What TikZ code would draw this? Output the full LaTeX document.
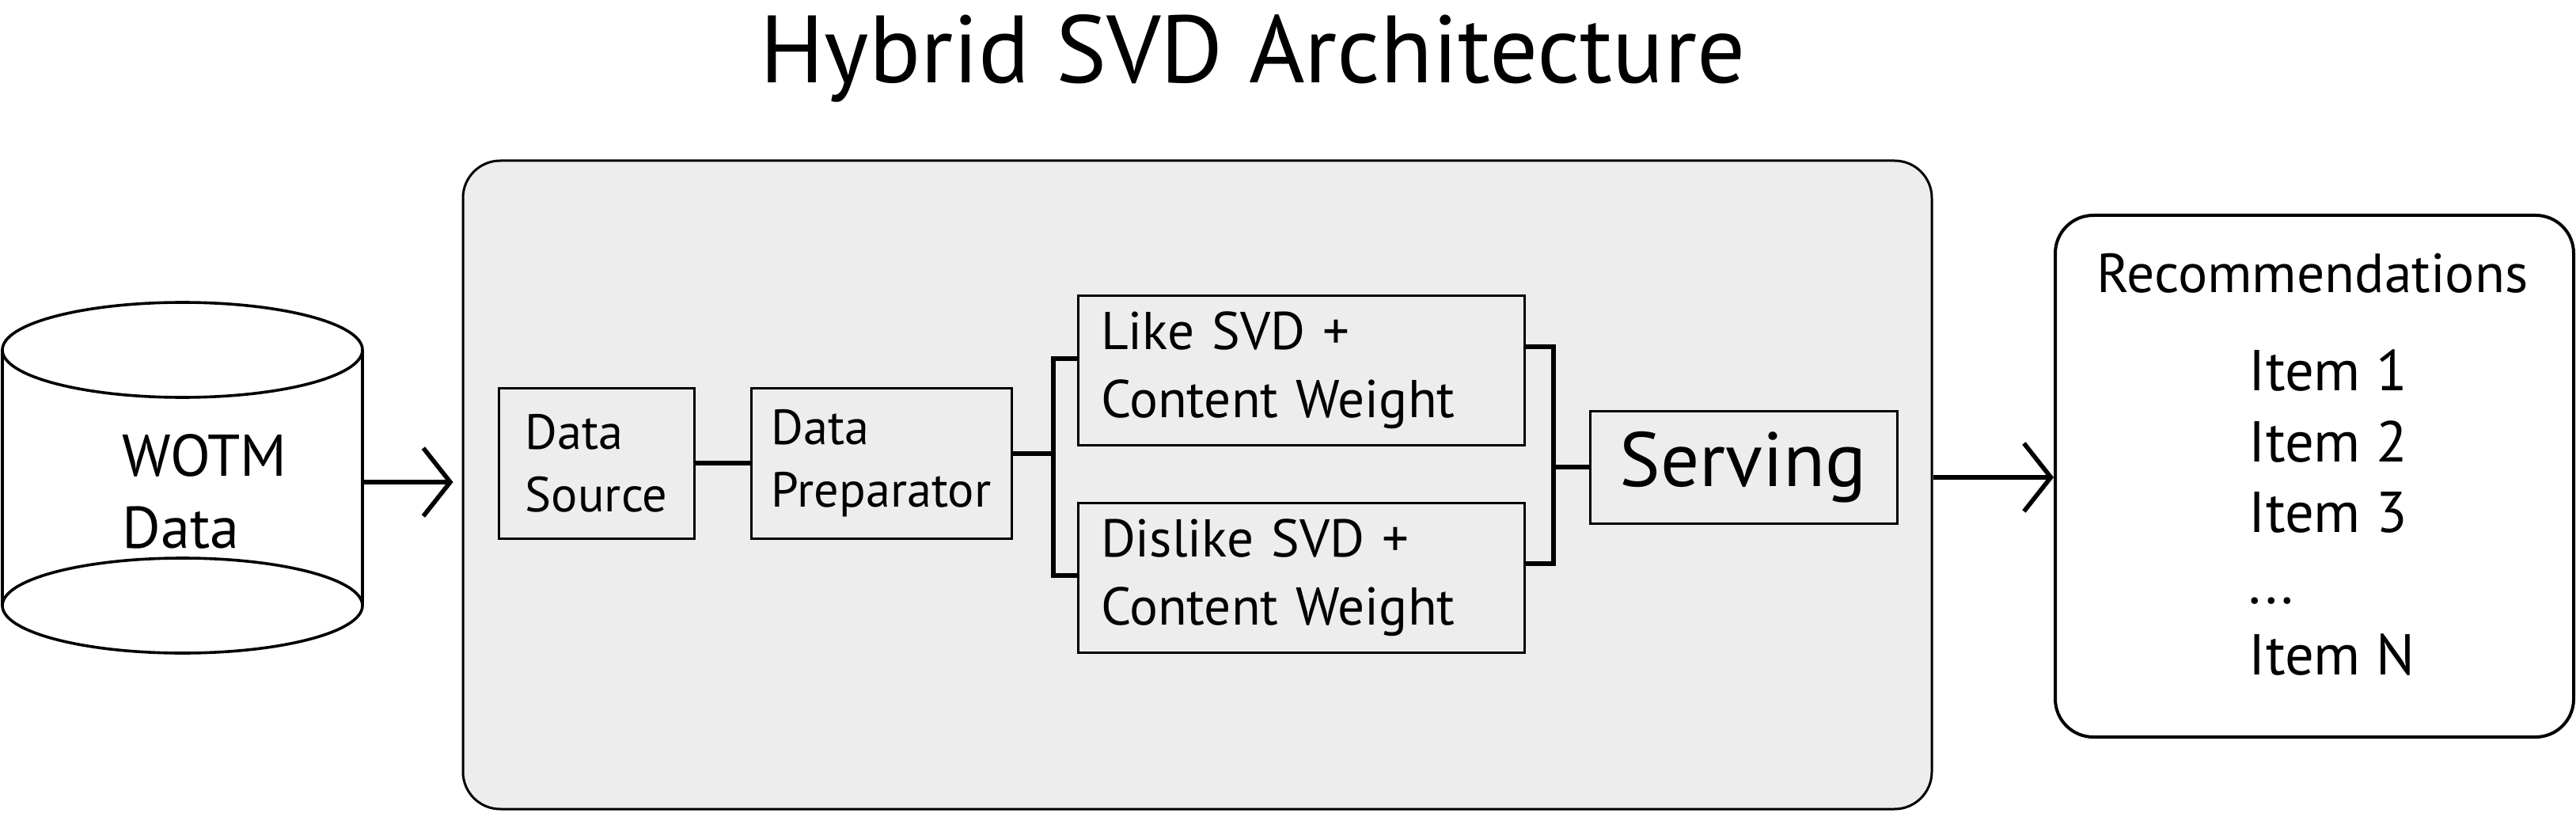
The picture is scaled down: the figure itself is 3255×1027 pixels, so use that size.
\documentclass[tikz,border=0pt]{standalone}
\usepackage{fontspec}
\setmainfont{PT Sans}
\usetikzlibrary{arrows.meta,calc,positioning}

\definecolor{panelgray}{RGB}{237,237,237}

\newcommand{\titlesize}{\fontsize{30.2pt}{36pt}\selectfont}
\newcommand{\cansize}{\fontsize{18.6pt}{22.75pt}\selectfont}
\newcommand{\stagesize}{\fontsize{15.6pt}{19.75pt}\selectfont}
\newcommand{\svdsize}{\fontsize{16.8pt}{21.5pt}\selectfont}
\newcommand{\servesize}{\fontsize{24.3pt}{29pt}\selectfont}
\newcommand{\recsize}{\fontsize{17.4pt}{19pt}\selectfont}
\newcommand{\itemsize}{\fontsize{18.2pt}{22.4pt}\selectfont}

\tikzset{every picture/.style={line width=0.75pt}}
\tikzset{
  stagebox/.style={draw, line width=0.75pt, fill=panelgray, align=left, minimum height=47.5pt},
  svdbox/.style={stagebox, minimum height=47.25pt, text width=126.5pt, inner xsep=7.25pt, font=\svdsize},
  conn/.style={line width=1.5pt},
  flow/.style={line width=1.4pt, -{Straight Barb[length=8.5pt,width=21.5pt,line width=1.4pt]}},
}

\begin{document}
\begin{tikzpicture}[x=0.25pt,y=0.25pt,yscale=-1,xscale=1]
\useasboundingbox (0,0) rectangle (3255,1027);

% Text Node
\node (title) [anchor=base, font=\titlesize] at (1583,105) {Hybrid SVD Architecture};

%Shape: Can
\draw [line width=0.9pt] (3,442) -- (3,765);
\draw [line width=0.9pt] (458,442) -- (458,765);
\draw [line width=0.9pt] (230.5,442) ellipse [x radius=227.5, y radius=60];
\draw [line width=0.9pt] (230.5,765) ellipse [x radius=227.5, y radius=60];
% Text Node
\node (wotm) [anchor=base west, align=left, font=\cansize] at (140,692) {WOTM\\Data};

%Rounded Rect
\node (engine) [draw, fill=panelgray, rounded corners=11.75pt, minimum width=464pt, minimum height=204.75pt] at (1513,612.5) {};

%Shape: Rectangle
\node (src) [stagebox, minimum width=61.75pt, font=\stagesize] at (753.5,585) {Data\\Source};
%Shape: Rectangle
\node (prep) [stagebox, minimum width=82.25pt, font=\stagesize] at (1113.5,585) {Data\\Preparator};
%Shape: Rectangle
\node (like) [svdbox] at (1644,467.5) {Like SVD +\\Content Weight};
%Shape: Rectangle
\node (dislike) [svdbox] at (1644,730) {Dislike SVD +\\Content Weight};
%Shape: Rectangle
\node (serve) [stagebox, align=center, minimum width=97pt, minimum height=35.5pt, font=\servesize] at (2203,590) {Serving};

%Rounded Rect
\node (rec) [draw, line width=1pt, fill=white, rounded corners=12pt, minimum width=163.75pt, minimum height=164.75pt] at (2924.5,601.5) {};
% Text Node
\node (rectitle) [anchor=base, font=\recsize] at (2922,369) {Recommendations};
% Text Node
\node (items) [anchor=base west, align=left, font=\itemsize] at (2827,852) {Item 1\\Item 2\\Item 3\\...\\Item N};

%Straight Lines
\draw [conn] (src.east) -- (prep.east -| prep.west);
\draw [conn] ($(prep.east)+(0,-12)$) -- ++(51,0) coordinate (forkL);
\draw [conn] ($(like.west)+(0,-15)$) -| (forkL) |- ($(dislike.west)+(0,-3)$);
\draw [conn] ($(like.east)+(0,-30)$) -- ++(35,0) coordinate (forkR) |- ($(dislike.east)+(0,-18)$);
\draw [conn] (serve.west) -- (serve.west -| forkR);

%Straight Lines
\coordinate (canout) at (458,609);
\draw [flow, shorten >=2.75pt] (canout) -- (canout -| engine.west);
\coordinate (engout) at ($(engine.east)+(0,-9.5)$);
\draw [flow] (engout) -- (engout -| rec.west);

\end{tikzpicture}
\end{document}
